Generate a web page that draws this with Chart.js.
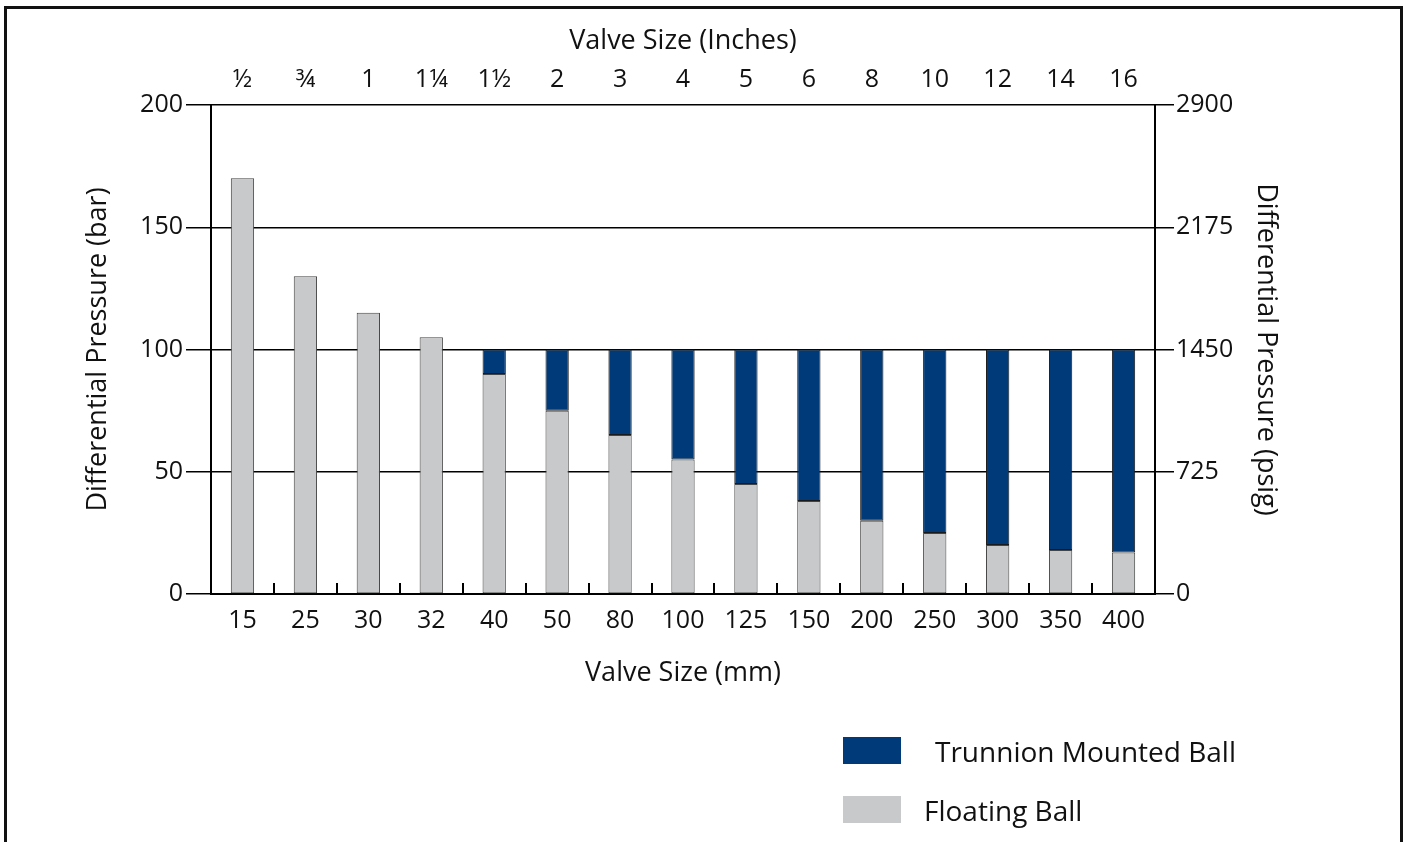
<!DOCTYPE html>
<html lang="en">
<head>
<meta charset="UTF-8">
<title>Ball Valve Pressure Ratings</title>
<script src="https://cdn.jsdelivr.net/npm/chart.js"></script>
<style>
  body { margin: 0; background: #fff; overflow: hidden; }
  #wrap { position: relative; width: 1407px; height: 842px; }
  #frame { position: absolute; left: 4px; top: 6px; width: 1393px; height: 900px;
           border: 3px solid #111; border-bottom: none; pointer-events: none; }
  #legend { position: absolute; left: 843px; top: 737px; font-family: "Open Sans", sans-serif;
            font-size: 28px; color: #111; }
  .item { position: absolute; left: 0; white-space: nowrap; }
  .box { position: absolute; left: 0; width: 58px; height: 27px; }
  .lbl { position: absolute; top: 50%; transform: translateY(-50%); }
</style>
</head>
<body>
<div id="wrap">
  <canvas id="valveChart"></canvas>
  <div id="frame"></div>
  <div id="legend"></div>
</div>

<script>
  var mmSizes = ['15', '25', '30', '32', '40', '50', '80', '100', '125', '150', '200', '250', '300', '350', '400'];
  var inchSizes = ['\u00BD', '\u00BE', '1', '1\u00BC', '1\u00BD', '2', '3', '4', '5', '6', '8', '10', '12', '14', '16'];

  // bar ratings
  var floatingBall = [170, 130, 115, 105, 90, 75, 65, 55, 45, 38, 30, 25, 20, 18, 17];
  var trunnionBall = [null, null, null, null, 100, 100, 100, 100, 100, 100, 100, 100, 100, 100, 100];

  var barTicks = [0, 50, 100, 150, 200];
  var psigTicks = [0, 725, 1450, 2175, 2900];

  var navy = '#003a78';
  var grey = '#c8c9cb';
  var fontFam = '"Open Sans", sans-serif';

  // trunnion segment sits on top of the floating ball rating
  var trunnionBars = trunnionBall.map(function(v, i) {
    return v == null ? null : [floatingBall[i], v];
  });

  // short upward ticks between the categories on the bottom axis
  var boundaryTicks = {
    id: 'boundaryTicks',
    afterDraw: function(chart) {
      var xs = chart.scales.x;
      var c = chart.ctx;
      var half = (xs.getPixelForValue(1) - xs.getPixelForValue(0)) / 2;
      c.save();
      c.strokeStyle = '#000';
      c.lineWidth = 2;
      for (var i = 0; i <= mmSizes.length; i++) {
        var px = Math.round(xs.getPixelForValue(i) - half);
        c.beginPath();
        c.moveTo(px, xs.top);
        c.lineTo(px, xs.top - 11);
        c.stroke();
      }
      c.restore();
    }
  };

  var ctx = document.getElementById('valveChart').getContext('2d');
  var chart = new Chart(ctx, {
    type: 'bar',
    data: {
      labels: mmSizes,
      datasets: [{
        label: 'Trunnion Mounted Ball',
        data: trunnionBars,
        backgroundColor: navy,
        borderColor: '#1a1a1a',
        borderWidth: 1,
        borderSkipped: false,
        grouped: false,
        categoryPercentage: 1,
        barPercentage: 0.37
      }, {
        label: 'Floating Ball',
        data: floatingBall,
        backgroundColor: grey,
        borderColor: '#444',
        borderWidth: 1,
        borderSkipped: false,
        grouped: false,
        categoryPercentage: 1,
        barPercentage: 0.37
      }]
    },
    options: {
      responsive: true,
      maintainAspectRatio: false,
      animation: false,
      layout: { padding: 0 },
      plugins: { legend: { display: false }, tooltip: { enabled: false } },
      scales: {
        x: {
          position: 'bottom',
          offset: true,
          grid: { offset: true, drawOnChartArea: false, drawTicks: false, tickLength: 0 },
          border: { color: '#000', width: 2 },
          ticks: { color: '#111', font: { family: fontFam, size: 25 }, padding: 12, maxRotation: 0, autoSkip: false },
          title: { display: true, text: 'Valve Size (mm)', color: '#111', font: { family: fontFam, size: 27 },
                   padding: { top: 0, bottom: 152 } },
          afterFit: function(s) { s.height = 248; }
        },
        x2: {
          position: 'top',
          type: 'category',
          labels: inchSizes,
          offset: true,
          grid: { display: false, drawTicks: false, tickLength: 0 },
          border: { display: false },
          ticks: { color: '#111', font: { family: fontFam, size: 25 }, padding: 10, maxRotation: 0, autoSkip: false },
          title: { display: true, text: 'Valve Size (Inches)', color: '#111', font: { family: fontFam, size: 27 },
                   padding: { top: 25, bottom: 0 } },
          afterFit: function(s) { s.height = 105; }
        },
        y: {
          position: 'left',
          min: 0,
          max: 200,
          afterBuildTicks: function(s) { s.ticks = barTicks.map(function(v) { return { value: v }; }); },
          grid: { color: '#000', lineWidth: 1.5, tickLength: 25 },
          border: { color: '#000', width: 2 },
          ticks: { color: '#111', font: { family: fontFam, size: 25 }, padding: 3,
                   callback: function(v) { return String(v); } },
          title: { display: true, text: 'Differential Pressure (bar)', color: '#111', font: { family: fontFam, size: 27 },
                   padding: { top: 82, bottom: 0 } },
          afterFit: function(s) { s.width = 211; }
        },
        y2: {
          position: 'right',
          min: 0,
          max: 2900,
          afterBuildTicks: function(s) { s.ticks = psigTicks.map(function(v) { return { value: v }; }); },
          grid: { drawOnChartArea: false, color: '#000', lineWidth: 1.5, tickLength: 19 },
          border: { color: '#000', width: 2 },
          ticks: { color: '#111', font: { family: fontFam, size: 25 }, padding: 2,
                   callback: function(v) { return String(v); } },
          title: { display: true, text: 'Differential Pressure (psig)', color: '#111', font: { family: fontFam, size: 27 },
                   padding: { top: 125, bottom: 0 } },
          afterFit: function(s) { s.width = 252; }
        }
      }
    },
    plugins: [boundaryTicks]
  });

  // legend, in the order shown on the original
  var legend = document.getElementById('legend');
  var tops = [0, 59];
  var textLeft = [92, 81];
  chart.data.datasets.forEach(function(ds, i) {
    var item = document.createElement('div');
    item.className = 'item';
    item.style.top = tops[i] + 'px';
    item.style.height = '27px';
    item.innerHTML = '<div class="box" style="background:' + ds.backgroundColor + '"></div>' +
                     '<span class="lbl" style="left:' + textLeft[i] + 'px">' + ds.label + '</span>';
    legend.appendChild(item);
  });
</script>
</body>
</html>
